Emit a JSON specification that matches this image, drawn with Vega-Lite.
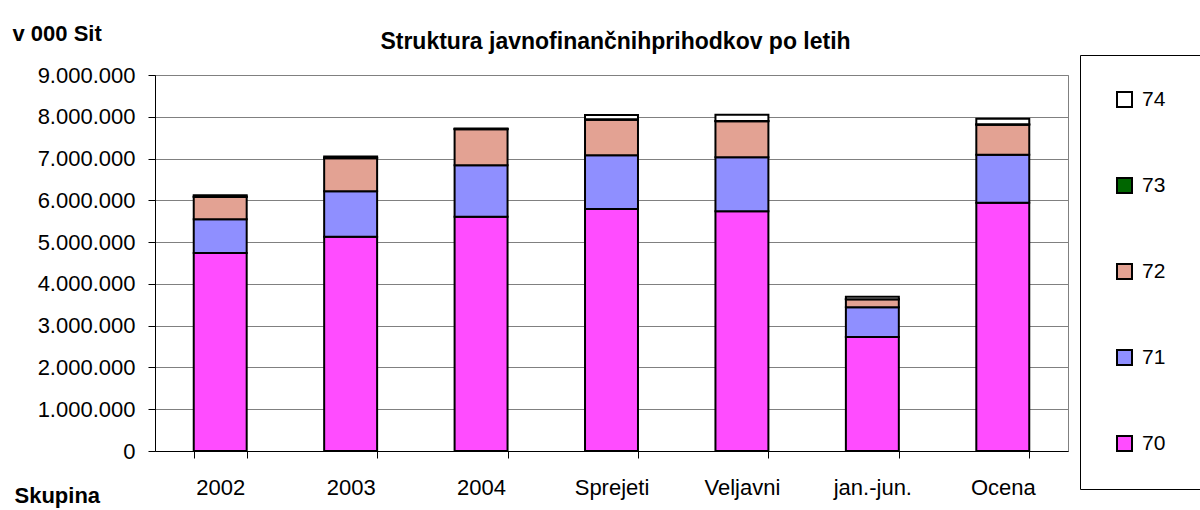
{
  "$schema": "https://vega.github.io/schema/vega-lite/v6.json",
  "width": 913,
  "height": 376,
  "autosize": {"type": "none"},
  "padding": {"left": 155, "top": 75, "right": 132, "bottom": 59},
  "background": "white",
  "config": {
    "locale": {"number": {"decimal": ",", "thousands": ".", "grouping": [3], "currency": ["", ""]}},
    "view": {"stroke": "#808080", "strokeWidth": 1},
    "font": "Liberation Sans"
  },
  "title": {
    "text": "Struktura javnofinančnihprihodkov po letih",
    "fontSize": 23,
    "fontWeight": "bold",
    "font": "Liberation Sans",
    "color": "black",
    "anchor": "middle",
    "baseline": "alphabetic",
    "offset": -50,
    "dx": 4
  },
  "data": {
    "values": [
      {"cat": "2002", "k": "70", "v": 4740000},
      {"cat": "2002", "k": "71", "v": 810000},
      {"cat": "2002", "k": "72", "v": 530000},
      {"cat": "2002", "k": "73", "v": 10000},
      {"cat": "2002", "k": "74", "v": 30000},
      {"cat": "2003", "k": "70", "v": 5130000},
      {"cat": "2003", "k": "71", "v": 1090000},
      {"cat": "2003", "k": "72", "v": 790000},
      {"cat": "2003", "k": "73", "v": 10000},
      {"cat": "2003", "k": "74", "v": 30000},
      {"cat": "2004", "k": "70", "v": 5610000},
      {"cat": "2004", "k": "71", "v": 1230000},
      {"cat": "2004", "k": "72", "v": 860000},
      {"cat": "2004", "k": "73", "v": 10000},
      {"cat": "2004", "k": "74", "v": 10000},
      {"cat": "Sprejeti", "k": "70", "v": 5790000},
      {"cat": "Sprejeti", "k": "71", "v": 1290000},
      {"cat": "Sprejeti", "k": "72", "v": 850000},
      {"cat": "Sprejeti", "k": "73", "v": 10000},
      {"cat": "Sprejeti", "k": "74", "v": 100000},
      {"cat": "Veljavni", "k": "70", "v": 5740000},
      {"cat": "Veljavni", "k": "71", "v": 1290000},
      {"cat": "Veljavni", "k": "72", "v": 860000},
      {"cat": "Veljavni", "k": "73", "v": 10000},
      {"cat": "Veljavni", "k": "74", "v": 150000},
      {"cat": "jan.-jun.", "k": "70", "v": 2730000},
      {"cat": "jan.-jun.", "k": "71", "v": 710000},
      {"cat": "jan.-jun.", "k": "72", "v": 190000},
      {"cat": "jan.-jun.", "k": "73", "v": 5000},
      {"cat": "jan.-jun.", "k": "74", "v": 55000},
      {"cat": "Ocena", "k": "70", "v": 5940000},
      {"cat": "Ocena", "k": "71", "v": 1150000},
      {"cat": "Ocena", "k": "72", "v": 720000},
      {"cat": "Ocena", "k": "73", "v": 10000},
      {"cat": "Ocena", "k": "74", "v": 130000}
    ]
  },
  "mark": {"type": "bar", "stroke": "black", "strokeWidth": 2},
  "encoding": {
    "x": {
      "field": "cat",
      "type": "nominal",
      "sort": null,
      "scale": {"paddingInner": 0.594, "paddingOuter": 0.297},
      "axis": {
        "title": "Skupina",
        "titleX": -141,
        "titleY": 51,
        "titleAlign": "left",
        "titleBaseline": "alphabetic",
        "titleFontSize": 22,
        "titleFontWeight": "bold",
        "titleColor": "black",
        "titleFont": "Liberation Sans",
        "labelAngle": 0,
        "labelFontSize": 22,
        "labelFont": "Liberation Sans",
        "labelColor": "black",
        "labelPadding": 19,
        "tickBand": "extent",
        "tickSize": 7,
        "tickColor": "black",
        "domainColor": "black",
        "grid": false
      }
    },
    "y": {
      "field": "v",
      "type": "quantitative",
      "scale": {"domain": [0, 9000000]},
      "axis": {
        "values": [0, 1000000, 2000000, 3000000, 4000000, 5000000, 6000000, 7000000, 8000000, 9000000],
        "format": ",d",
        "title": "v 000 Sit",
        "titleAngle": 0,
        "titleX": -143,
        "titleY": -35,
        "titleAlign": "left",
        "titleBaseline": "alphabetic",
        "titleFontSize": 22,
        "titleFontWeight": "bold",
        "titleColor": "black",
        "titleFont": "Liberation Sans",
        "labelFontSize": 22,
        "labelFont": "Liberation Sans",
        "labelColor": "black",
        "labelPadding": 13,
        "tickSize": 7,
        "tickColor": "black",
        "domainColor": "black",
        "grid": true,
        "gridColor": "#808080",
        "gridWidth": 1
      }
    },
    "color": {
      "field": "k",
      "type": "nominal",
      "scale": {
        "domain": ["74", "73", "72", "71", "70"],
        "range": ["#ffffff", "#006600", "#e3a293", "#8f8fff", "#ff4cff"]
      },
      "legend": {
        "orient": "none",
        "legendX": 925,
        "legendY": -20,
        "title": null,
        "strokeColor": "black",
        "fillColor": "white",
        "padding": 34,
        "rowPadding": 63,
        "symbolType": "square",
        "symbolSize": 225,
        "symbolStrokeColor": "black",
        "symbolStrokeWidth": 2,
        "symbolOpacity": 1,
        "labelFontSize": 21,
        "labelFont": "Liberation Sans",
        "labelColor": "black",
        "labelOffset": 7
      }
    },
    "order": {"field": "k", "sort": "ascending"}
  }
}
